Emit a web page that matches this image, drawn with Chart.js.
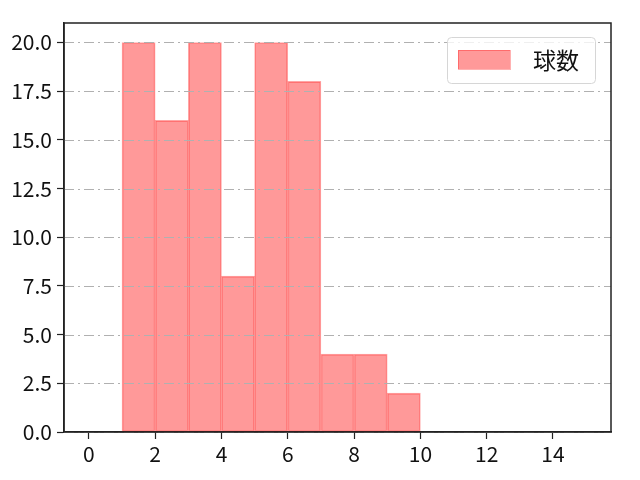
<!DOCTYPE html>
<html>
<head>
<meta charset="utf-8">
<script src="https://cdn.jsdelivr.net/npm/chart.js@4"></script>
<style>
  html, body { margin: 0; padding: 0; background: #fff; }
  #wrap { width: 640px; height: 480px; }
</style>
</head>
<body>
<div id="wrap"><canvas id="histChart" width="640" height="480"></canvas></div>
<script>
// bin edges 0..15 (width 1) and the count in each bin
const binStarts = [0, 1, 2, 3, 4, 5, 6, 7, 8, 9, 10, 11, 12, 13, 14];
const counts = [0, 20, 16, 20, 8, 20, 18, 4, 4, 2, 0, 0, 0, 0, 0];
const seriesLabel = '球数';
const xTicks = [0, 2, 4, 6, 8, 10, 12, 14];
const yTicks = [0, 2.5, 5, 7.5, 10, 12.5, 15, 17.5, 20];

const font = { family: '"Noto Sans CJK JP", "DejaVu Sans", sans-serif', size: 21 };

// top/right frame, grid above bars, legend inside the plot
const framePlugin = {
    id: 'frame',
    afterDatasetsDraw(chart) {
        const ctx = chart.ctx;
        const area = chart.chartArea;
        const y = chart.scales.y;
        ctx.save();
        ctx.strokeStyle = '#b0b0b0';
        ctx.lineWidth = 1;
        ctx.setLineDash([10, 4, 2, 4]);
        yTicks.forEach(v => {
            const py = Math.round(y.getPixelForValue(v)) + 0.5;
            ctx.beginPath();
            ctx.moveTo(area.left, py);
            ctx.lineTo(area.right, py);
            ctx.stroke();
        });
        ctx.setLineDash([]);
        ctx.strokeStyle = '#222';
        ctx.lineWidth = 1.5;
        ctx.strokeRect(area.left, area.top, area.right - area.left, area.bottom - area.top);

        // legend box
        const bx = 447, by = 37, bw = 148, bh = 46;
        ctx.fillStyle = 'rgba(255,255,255,0.8)';
        ctx.strokeStyle = '#d6d6d6';
        ctx.lineWidth = 1;
        ctx.beginPath();
        ctx.roundRect(bx + 0.5, by + 0.5, bw, bh, 4);
        ctx.fill();
        ctx.stroke();
        ctx.fillStyle = 'rgba(255,0,0,0.4)';
        ctx.strokeStyle = 'rgba(255,0,0,0.3)';
        ctx.fillRect(458, 50, 52, 19);
        ctx.strokeRect(458.5, 50.5, 52, 19);
        ctx.fillStyle = '#111';
        ctx.font = '23px ' + font.family;
        ctx.textBaseline = 'middle';
        ctx.fillText(chart.data.datasets[0].label, 533, 60);
        ctx.restore();
    }
};

new Chart(document.getElementById('histChart').getContext('2d'), {
    type: 'bar',
    data: {
        datasets: [{
            label: seriesLabel,
            data: binStarts.map((s, i) => ({ x: s + 0.5, y: counts[i] })),
            backgroundColor: 'rgba(255,0,0,0.4)',
            borderColor: 'rgba(255,0,0,0.35)',
            borderWidth: 1,
            barPercentage: 1,
            categoryPercentage: 1,
            borderSkipped: false
        }]
    },
    options: {
        responsive: false,
        animation: false,
        layout: { padding: { left: 0, right: 29, top: 23, bottom: 0 } },
        plugins: {
            legend: { display: false },
            tooltip: { enabled: false }
        },
        scales: {
            x: {
                type: 'linear',
                offset: false,
                min: -0.75,
                max: 15.75,
                afterBuildTicks: scale => { scale.ticks = xTicks.map(v => ({ value: v })); },
                afterFit: scale => { scale.height = 48; },
                ticks: { color: '#111', font: font, padding: 2, maxRotation: 0 },
                grid: { offset: false, drawOnChartArea: false, tickLength: 7, tickColor: '#222', tickWidth: 1.2 },
                border: { display: true, color: '#222', width: 1.5 }
            },
            y: {
                min: 0,
                max: 21,
                afterBuildTicks: scale => { scale.ticks = yTicks.map(v => ({ value: v })); },
                afterFit: scale => { scale.width = 64; },
                ticks: { color: '#111', font: font, padding: 5, callback: v => v.toFixed(1) },
                grid: { drawOnChartArea: false, tickLength: 7, tickColor: '#222', tickWidth: 1.2 },
                border: { display: true, color: '#222', width: 1.5 }
            }
        }
    },
    plugins: [framePlugin]
});
</script>
</body>
</html>
